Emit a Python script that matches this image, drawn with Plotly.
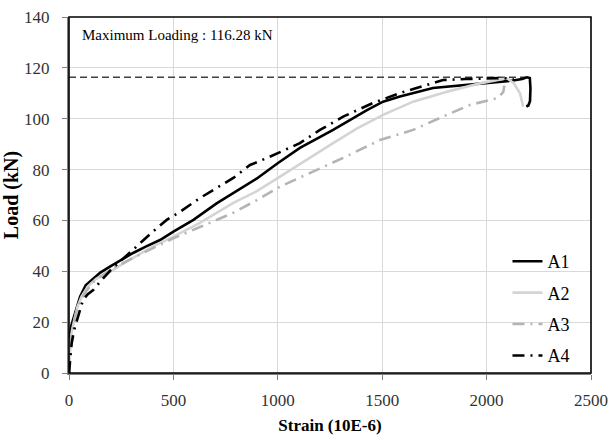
import plotly.graph_objects as go

# Load-strain curves for specimens A1-A4 (strain in 10E-6, load in kN)
a1_strain = [0, 2, 6, 12, 21, 35, 53, 80, 116, 150, 196, 250, 307, 370, 436, 500,
             596, 707, 787, 900, 1001, 1106, 1265, 1427, 1504, 1585, 1743, 1906,
             2064, 2127, 2170, 2193, 2207, 2210, 2208, 2200, 2190]
a1_load = [0, 10, 16, 19, 21.5, 25.5, 30, 34.5, 37.2, 39.5, 41.8, 44.5, 47.2, 49.8,
           52.3, 55.6, 60.2, 66.7, 70.8, 76.5, 82.6, 88.5, 95.6, 103.4, 106.7, 108.7,
           112.1, 113.3, 114.6, 115.0, 115.6, 116.28, 116.0, 112, 107, 105.2, 104.8]

a2_strain = [0, 3, 8, 15, 25, 40, 60, 90, 130, 196, 260, 330, 400, 500, 627, 787,
             900, 1001, 1130, 1265, 1380, 1504, 1648, 1810, 1968, 2050, 2098, 2130,
             2160, 2175]
a2_load = [0, 8, 13, 17, 21, 26, 30, 34, 37, 39.8, 43, 46.5, 49.7, 53.6, 59, 66.9,
           71.5, 76.7, 83.5, 90.4, 96.2, 101.5, 106.7, 110.6, 113.9, 115.3, 115.9,
           114, 110, 104.7]

a3_strain = [0, 4, 10, 20, 35, 55, 85, 120, 170, 230, 300, 400, 500, 627, 787, 900,
             1011, 1150, 1313, 1489, 1648, 1810, 1920, 2055, 2080, 2085]
a3_load = [0, 9, 14, 19, 24, 28.5, 32.5, 36, 39, 42, 45, 49, 53, 57.4, 63, 68, 73.3,
           78.5, 84.6, 91.6, 95.6, 101.5, 105.4, 108.2, 110.5, 113]

a4_strain = [0, 5, 13, 25, 45, 67, 90, 116, 150, 200, 260, 340, 400, 468, 532, 627,
             787, 867, 947, 1106, 1202, 1313, 1456, 1585, 1667, 1791, 1900, 2000,
             2080, 2130]
a4_load = [0, 6, 11.8, 17, 23, 28.7, 31, 32.6, 36, 40.5, 45, 51, 55.5, 60.2, 63.4,
           68.8, 76.7, 81.8, 84.5, 90.4, 95.6, 100.8, 106.2, 110.1, 112.1, 115.2,
           115.6, 115.8, 116.0, 115.5]

max_load = 116.28
max_line_strain = [0, 2200]

x_ticks = [0, 500, 1000, 1500, 2000, 2500]
y_ticks = [0, 20, 40, 60, 80, 100, 120, 140]

FONT = "Liberation Serif"
dashdot = "12px,6px,2px,6px"

fig = go.Figure()

fig.add_trace(go.Scatter(
    x=max_line_strain, y=[max_load, max_load], mode="lines",
    line=dict(color="#404040", width=1.6, dash="7px,4px"),
    showlegend=False, hoverinfo="skip"))

series = [
    ("A1", a1_strain, a1_load, dict(color="#000000", width=2.6)),
    ("A2", a2_strain, a2_load, dict(color="#d4d4d4", width=2.6)),
    ("A3", a3_strain, a3_load, dict(color="#b4b4b4", width=2.6, dash=dashdot)),
    ("A4", a4_strain, a4_load, dict(color="#000000", width=2.6, dash=dashdot)),
]
for name, xs, ys, ln in series:
    fig.add_trace(go.Scatter(x=xs, y=ys, mode="lines", name=name, line=ln,
                             legendgroup=name))

# white panels behind the note and the legend (hide the gridlines there)
fig.add_shape(type="rect", xref="paper", yref="paper", x0=0, x1=0.45,
              y0=0.902, y1=1, fillcolor="white", line_width=0, layer="between")
fig.add_shape(type="rect", xref="paper", yref="paper", x0=0.814, x1=1,
              y0=0.008, y1=0.374, fillcolor="white", line_width=0, layer="between")
# outer frame
fig.add_shape(type="rect", xref="paper", yref="paper", x0=0, x1=1, y0=0, y1=1,
              line=dict(color="#000000", width=1.6), layer="above")

fig.add_annotation(text="Maximum Loading : 116.28 kN", xref="paper", yref="paper",
                   x=0.021, y=0.949, xanchor="left", yanchor="middle",
                   showarrow=False, font=dict(family=FONT, size=15, color="#000000"))

axis_common = dict(showline=True, linecolor="#808080", linewidth=2,
                   showgrid=True, gridcolor="#d9d9d9", gridwidth=1,
                   ticks="outside", ticklen=5, tickcolor="#808080",
                   zeroline=False, automargin=False,
                   tickfont=dict(family=FONT, size=17, color="#333333"))

fig.update_layout(
    width=610, height=435,
    margin=dict(l=69, r=19, t=17, b=62),
    paper_bgcolor="white", plot_bgcolor="white",
    xaxis=dict(range=[0, 2500], tickvals=x_ticks, ticklabelstandoff=6,
               title=dict(text="<b>Strain (10E-6)</b>", standoff=14,
                          font=dict(family=FONT, size=17, color="#000000")),
               **axis_common),
    yaxis=dict(range=[0, 140], tickvals=y_ticks, ticklabelstandoff=9,
               title=dict(text="<b>Load (kN)</b>", standoff=6,
                          font=dict(family=FONT, size=20, color="#000000")),
               **axis_common),
    legend=dict(x=0.84, y=0.365, xanchor="left", yanchor="top",
                bgcolor="rgba(0,0,0,0)", tracegroupgap=5,
                font=dict(family=FONT, size=18, color="#000000")),
    showlegend=True,
)

fig.write_html("out.html")
